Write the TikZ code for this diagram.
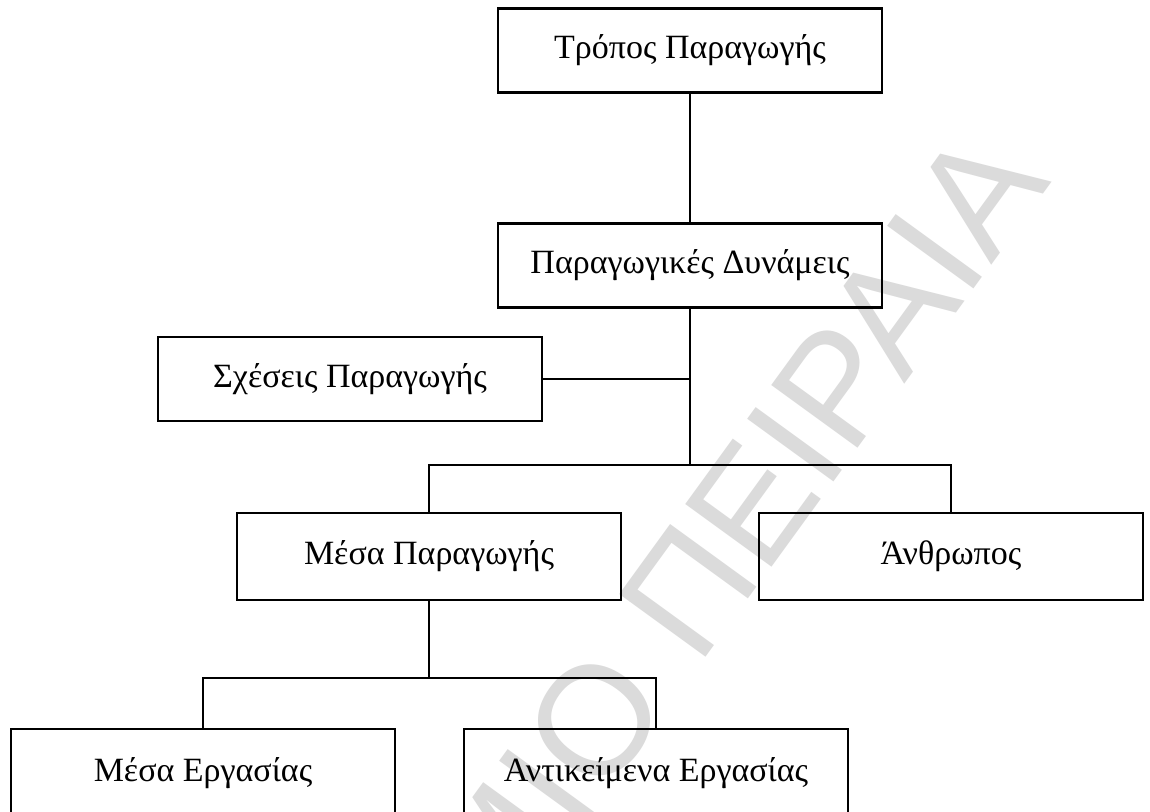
\documentclass[tikz,border=0pt]{standalone}
\usepackage{fontspec}
\setmainfont{Liberation Serif}
\newfontfamily\wmfont{Liberation Sans}
\begin{document}
\begin{tikzpicture}[x=0.5pt,y=-0.5pt,
  box/.style={draw=black, line width=1.4pt, minimum width=192pt, minimum height=42pt, inner sep=0pt, font=\fontsize{17}{20}\selectfont},
  conn/.style={draw=black, line width=1.3pt},
  wm/.style={text=black!14, font=\wmfont\fontsize{77.5}{90}\selectfont, inner sep=0pt}]
\clip (0,0) rectangle (1150,812);
\fill[white] (0,0) rectangle (1150,812);
% watermark
\node[wm, rotate=54, anchor=base east] (wmark) at (1052,182) {ΠΑΝΕΠΙΣΤΗΜΙΟ ΠΕΙΡΑΙΑ};
% connectors
\coordinate (j1) at (690,465);
\coordinate (j2) at (429,678);
% boxes
\node[box] (top) at (690,50.5) {Τρόπος Παραγωγής};
\node[box] (forces) at (690,265.5) {Παραγωγικές Δυνάμεις};
\node[box] (rel) at (350,379) {Σχέσεις Παραγωγής};
\node[box, minimum height=43.5pt] (means) at (429,556.5) {Μέσα Παραγωγής};
\node[box, minimum height=43.5pt] (human) at (951,556.5) {Άνθρωπος};
\node[box, minimum height=44pt] (tools) at (203,773) {Μέσα Εργασίας};
\node[box, minimum height=44pt] (objects) at (656,773) {Αντικείμενα Εργασίας};
\draw[conn] (top.south) -- (forces.north);
\draw[conn] (forces.south) -- (j1);
\draw[conn] (rel.east) -- (rel.east -| j1);
\draw[conn] (means.north) |- (j1) -| (human.north);
\draw[conn] (means.south) -- (j2);
\draw[conn] (tools.north) |- (j2) -| (objects.north);
\end{tikzpicture}
\end{document}
